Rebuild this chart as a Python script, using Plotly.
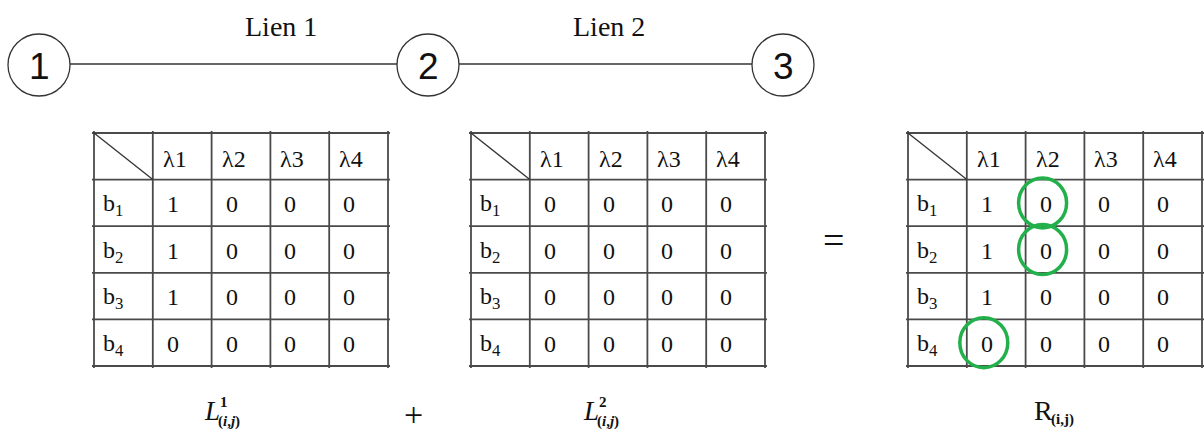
import plotly.graph_objects as go

# ── Data ──────────────────────────────────────────────────────────────────────
nodes = ["1", "2", "3"]
links = ["Lien 1", "Lien 2"]
wavelengths = ["λ1", "λ2", "λ3", "λ4"]
blocks = ["b<sub>1</sub>", "b<sub>2</sub>", "b<sub>3</sub>", "b<sub>4</sub>"]

L1 = [[1, 0, 0, 0],
      [1, 0, 0, 0],
      [1, 0, 0, 0],
      [0, 0, 0, 0]]
L2 = [[0, 0, 0, 0],
      [0, 0, 0, 0],
      [0, 0, 0, 0],
      [0, 0, 0, 0]]
R = [[1, 0, 0, 0],
     [1, 0, 0, 0],
     [1, 0, 0, 0],
     [0, 0, 0, 0]]
highlighted = [(0, 1), (1, 1), (3, 0)]   # (row, col) circled in R

# ── Layout constants (pixel coordinates) ──────────────────────────────────────
W, H = 1204, 435
SERIF = "Liberation Serif"
SANS = "Liberation Sans"
GRID = "#4a4a4a"
GREEN = "#22b04b"

node_x = [39, 428, 783]
node_y = 65
node_r = 31
link_x = [281, 609]

table_left = [94, 471, 908]
table_top = 133
col_w = 58.8
row_h = 46.6

fig = go.Figure()
shapes = []
ann = []


def text(x, y, s, size, family=SERIF, xanchor="center", yanchor="middle"):
    ann.append(dict(x=x, y=y, text=s, showarrow=False, xanchor=xanchor, yanchor=yanchor,
                    font=dict(family=family, size=size, color="#111")))


# ── Network: nodes and links ──────────────────────────────────────────────────
for i, (x, lbl) in enumerate(zip(node_x, nodes)):
    shapes.append(dict(type="circle", x0=x - node_r, x1=x + node_r, y0=node_y - node_r,
                       y1=node_y + node_r, line=dict(color="#333", width=1.3)))
    text(x, node_y + 1, lbl, 37, family=SANS)
    if i < len(node_x) - 1:
        shapes.append(dict(type="line", x0=x + node_r, x1=node_x[i + 1] - node_r,
                           y0=node_y - 1, y1=node_y - 1, line=dict(color="#333", width=1.3)))
        text(link_x[i], 26, links[i], 28)

# ── Tables ────────────────────────────────────────────────────────────────────
for left, mat in zip(table_left, [L1, L2, R]):
    right = left + 5 * col_w
    bottom = table_top + 5 * row_h
    for k in range(6):
        shapes.append(dict(type="line", x0=left + k * col_w, x1=left + k * col_w,
                           y0=table_top - 2, y1=bottom + 2, line=dict(color=GRID, width=1.8)))
        shapes.append(dict(type="line", x0=left - 2, x1=right + 2,
                           y0=table_top + k * row_h, y1=table_top + k * row_h,
                           line=dict(color=GRID, width=1.8)))
    shapes.append(dict(type="line", x0=left, y0=table_top, x1=left + col_w, y1=table_top + row_h,
                       line=dict(color="#333", width=1.3)))
    for j, wl in enumerate(wavelengths):
        text(left + (j + 1) * col_w + 8, table_top + row_h / 2 + 3, wl, 24, xanchor="left")
    for i, b in enumerate(blocks):
        cy = table_top + (i + 1.5) * row_h
        text(left + 7, cy + 2, b, 24, xanchor="left")
        for j, v in enumerate(mat[i]):
            text(left + (j + 1) * col_w + 12, cy + 1, str(v), 24, xanchor="left")

# green circles on the result table
for i, j in highlighted:
    cx = table_left[2] + (j + 1) * col_w + 17
    cy = table_top + (i + 1.5) * row_h
    shapes.append(dict(type="circle", x0=cx - 24, x1=cx + 24, y0=cy - 25, y1=cy + 25,
                       line=dict(color=GREEN, width=3.5)))

# ── Operators and labels ──────────────────────────────────────────────────────
text(833, 240, "=", 38)
text(413, 435, "+", 34, yanchor="bottom")
for x0, sup in [(202, "1"), (581, "2")]:
    text(x0, 411, "<i>L</i>", 27, xanchor="left")
    text(x0 + 16, 402, f"<b>{sup}</b>", 15, xanchor="left")
    text(x0 + 14, 421, "<b>(<i>i</i>,<i>j</i>)</b>", 15, xanchor="left")
text(1032, 410, "R", 28, xanchor="left")
text(1049, 419, "<b>(i,j)</b>", 15, xanchor="left")

fig.update_layout(
    width=W, height=H,
    margin=dict(l=0, r=0, t=0, b=0),
    paper_bgcolor="white", plot_bgcolor="white",
    xaxis=dict(range=[0, W], visible=False, fixedrange=True),
    yaxis=dict(range=[H, 0], visible=False, fixedrange=True),
    shapes=shapes, annotations=ann, showlegend=False,
)
fig.write_html("out.html", config=dict(displayModeBar=False),
               post_script="document.body.style.margin='0';")
